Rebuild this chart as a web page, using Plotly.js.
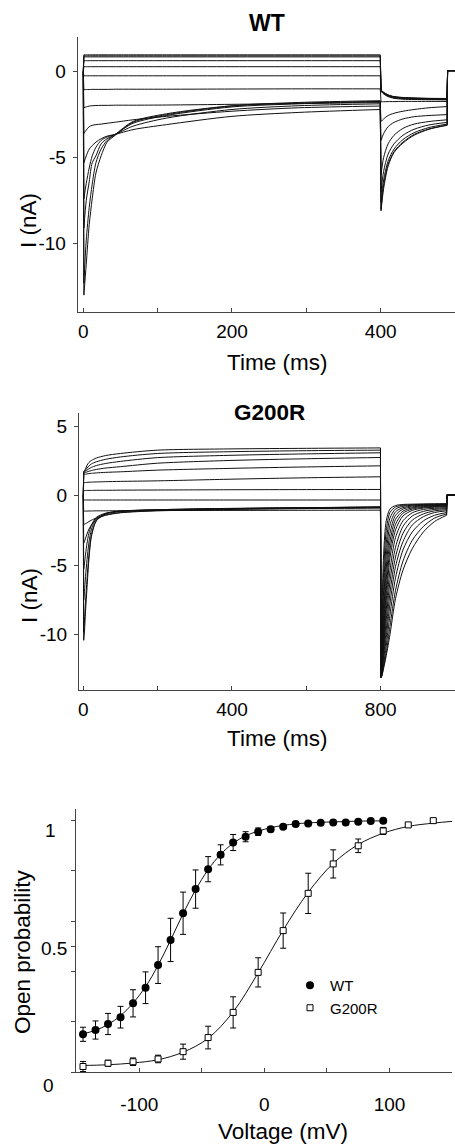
<!DOCTYPE html>
<html><head><meta charset="utf-8">
<script src="https://cdn.plot.ly/plotly-3.0.1.min.js"></script>
<style>html,body{margin:0;padding:0;background:#fff}#chart{width:455px;height:1144px}</style>
</head><body><div id="chart"></div>
<script>
// ---------------- WT current traces ----------------
const WT_TEST_T = [0.8, 4, 8, 12, 17, 24, 32, 43, 67, 112, 200, 290, 399.5];
const WT_TEST = [
  [0.98,0.98,0.98,0.98,0.98,0.98,0.98,0.98,0.98,0.98,0.98,0.98,0.98],
  [0.92,0.92,0.92,0.92,0.92,0.92,0.92,0.92,0.92,0.92,0.92,0.92,0.92],
  [0.86,0.86,0.86,0.86,0.86,0.86,0.86,0.86,0.86,0.86,0.86,0.86,0.86],
  [0.64,0.64,0.64,0.64,0.64,0.64,0.64,0.64,0.64,0.64,0.64,0.64,0.64],
  [0.29,0.29,0.29,0.29,0.29,0.29,0.29,0.29,0.29,0.29,0.29,0.29,0.29],
  [-0.24,-0.24,-0.24,-0.24,-0.24,-0.24,-0.24,-0.24,-0.24,-0.24,-0.24,-0.24,-0.24],
  [-1.05,-1.04,-1.04,-1.03,-1.03,-1.03,-1.03,-1.02,-1.02,-1.02,-1.01,-1.0,-1.0],
  [-2.1,-2.05,-2.0,-1.98,-1.97,-1.96,-1.96,-1.95,-1.95,-1.94,-1.9,-1.85,-1.8],
  [-3.6,-3.4,-3.2,-3.12,-3.08,-3.05,-3.0,-2.94,-2.8,-2.6,-2.3,-2.1,-2.0],
  [-5.3,-4.9,-4.5,-4.3,-4.1,-3.9,-3.75,-3.65,-3.37,-3.08,-2.6,-2.37,-2.2],
  [-7.4,-6.5,-5.6,-4.9,-4.4,-4.0,-3.8,-3.65,-3.17,-2.7,-2.2,-1.98,-1.87],
  [-9.1,-7.5,-6.4,-5.3,-4.9,-4.2,-3.9,-3.65,-3.0,-2.55,-2.05,-1.87,-1.75],
  [-12.3,-9.8,-7.9,-6.55,-5.3,-4.5,-4.0,-3.65,-2.9,-2.45,-1.98,-1.79,-1.69],
  [-13.0,-11.2,-8.9,-7.4,-5.9,-4.9,-4.1,-3.7,-2.94,-2.5,-2.0,-1.83,-1.73]
];
const WT_TAIL_T = [400.5, 404, 410, 418, 430, 445, 465, 489.5];
const WT_TAIL = [
  [-1.06,-1.2,-1.35,-1.45,-1.5,-1.53,-1.55,-1.56],
  [-1.07,-1.21,-1.36,-1.46,-1.51,-1.54,-1.56,-1.57],
  [-1.08,-1.22,-1.37,-1.47,-1.52,-1.55,-1.57,-1.58],
  [-1.1,-1.24,-1.39,-1.49,-1.54,-1.57,-1.59,-1.6],
  [-1.12,-1.27,-1.42,-1.52,-1.57,-1.6,-1.61,-1.62],
  [-1.15,-1.3,-1.45,-1.55,-1.6,-1.62,-1.63,-1.64],
  [-1.75,-1.75,-1.74,-1.74,-1.73,-1.73,-1.73,-1.73],
  [-2.9,-2.75,-2.55,-2.42,-2.3,-2.2,-2.1,-2.03],
  [-4.0,-3.6,-3.2,-2.95,-2.75,-2.62,-2.55,-2.5],
  [-6.0,-5.0,-4.2,-3.7,-3.3,-3.05,-2.9,-2.8],
  [-7.0,-5.8,-4.8,-4.2,-3.7,-3.35,-3.1,-2.95],
  [-7.6,-6.3,-5.2,-4.5,-3.95,-3.55,-3.25,-3.05],
  [-8.0,-6.6,-5.4,-4.65,-4.1,-3.65,-3.33,-3.1],
  [-8.1,-6.8,-5.5,-4.7,-4.15,-3.7,-3.35,-3.12]
];
const WT_HOLD = 0;
const WT_STEP_T = [490, 500];
const WT_STEP_I = [0.06, 0.06];

// ---------------- G200R current traces ----------------
const G_TEST_T = [1, 3, 6, 10, 15, 22, 35, 60, 100, 200, 400, 600, 799.5];
const G_TEST = [
  [1.73,1.8,1.95,2.2,2.4,2.55,2.72,2.9,3.05,3.29,3.38,3.42,3.45],
  [1.73,1.76,1.85,2.0,2.15,2.3,2.45,2.63,2.8,3.05,3.18,3.25,3.29],
  [1.7,1.72,1.78,1.85,1.95,2.05,2.18,2.33,2.48,2.75,2.92,3.02,3.1],
  [1.65,1.66,1.69,1.72,1.77,1.82,1.9,2.0,2.1,2.35,2.55,2.67,2.76],
  [1.55,1.55,1.56,1.58,1.6,1.62,1.65,1.69,1.73,1.85,1.98,2.08,2.16],
  [0.95,0.95,0.96,0.97,0.98,0.99,1.0,1.02,1.04,1.08,1.2,1.3,1.37],
  [0.38,0.38,0.38,0.39,0.39,0.39,0.4,0.4,0.41,0.42,0.44,0.45,0.46],
  [-0.3,-0.3,-0.3,-0.3,-0.3,-0.3,-0.3,-0.3,-0.3,-0.3,-0.3,-0.3,-0.3],
  [-1.1,-1.1,-1.1,-1.1,-1.09,-1.09,-1.08,-1.08,-1.07,-1.06,-1.05,-1.04,-1.03],
  [-2.1,-2.05,-2.0,-1.95,-1.85,-1.75,-1.6,-1.4,-1.22,-1.08,-0.98,-0.92,-0.88],
  [-3.4,-3.3,-3.05,-2.75,-2.4,-2.1,-1.7,-1.38,-1.2,-1.05,-0.95,-0.9,-0.85],
  [-5.3,-4.9,-4.2,-3.4,-2.7,-2.1,-1.55,-1.25,-1.12,-1.02,-0.93,-0.88,-0.83],
  [-7.5,-6.9,-5.8,-4.6,-3.4,-2.4,-1.65,-1.3,-1.12,-1.0,-0.92,-0.86,-0.8],
  [-9.8,-9.0,-7.6,-6.0,-4.3,-2.8,-1.8,-1.3,-1.1,-1.0,-0.9,-0.85,-0.8],
  [-10.4,-9.8,-8.3,-6.6,-4.6,-2.9,-1.8,-1.28,-1.1,-1.02,-0.92,-0.86,-0.82]
];
const G_TAIL_T = [800.5, 803, 808, 815, 825, 840, 860, 885, 915, 945, 977.5];
const G_TAIL = [
  [-13.1,-13.0,-12.4,-11.5,-10.0,-7.4,-5.35,-3.8,-2.6,-1.85,-1.4],
  [-13.1,-12.95,-12.3,-11.3,-9.4,-6.8,-4.7,-3.2,-2.2,-1.6,-1.3],
  [-13.1,-12.9,-12.1,-10.8,-8.6,-5.9,-3.9,-2.6,-1.8,-1.4,-1.2],
  [-13.0,-12.8,-11.8,-10.2,-7.8,-5.1,-3.3,-2.1,-1.5,-1.2,-1.08],
  [-13.0,-12.7,-11.5,-9.6,-7.0,-4.4,-2.7,-1.75,-1.3,-1.08,-1.0],
  [-13.0,-12.6,-11.1,-8.9,-6.2,-3.7,-2.2,-1.45,-1.12,-0.98,-0.92],
  [-13.0,-12.5,-10.8,-8.2,-5.4,-3.0,-1.8,-1.22,-0.98,-0.9,-0.86],
  [-12.9,-12.4,-10.4,-7.5,-4.5,-2.45,-1.45,-1.05,-0.88,-0.82,-0.8],
  [-12.9,-12.2,-9.9,-6.8,-3.9,-2.05,-1.25,-0.95,-0.82,-0.77,-0.75],
  [-12.8,-12.0,-9.3,-6.0,-3.3,-1.7,-1.1,-0.87,-0.77,-0.73,-0.72],
  [-12.7,-11.7,-8.6,-5.2,-2.7,-1.4,-0.95,-0.8,-0.72,-0.7,-0.68],
  [-12.6,-11.3,-7.8,-4.3,-2.1,-1.15,-0.85,-0.73,-0.68,-0.66,-0.65],
  [-12.5,-10.8,-6.8,-3.4,-1.6,-0.95,-0.75,-0.68,-0.65,-0.63,-0.62],
  [-12.3,-10.0,-5.5,-2.5,-1.2,-0.8,-0.68,-0.64,-0.62,-0.6,-0.6],
  [-12.0,-9.0,-4.2,-1.8,-0.95,-0.7,-0.62,-0.6,-0.58,-0.57,-0.56]
];
const G_HOLD = 0;
const G_STEP_T = [978, 1000];
const G_STEP_I = [0.05, 0.05];

// ---------------- Open probability ----------------
const WT_V = [-145,-135,-125,-115,-105,-95,-85,-75,-65,-55,-45,-35,-25,-15,-5,5,15,25,35,45,55,65,75,85,95];
const WT_P = [0.151,0.168,0.192,0.219,0.274,0.336,0.426,0.526,0.632,0.728,0.807,0.864,0.913,0.936,0.956,0.966,0.976,0.987,0.989,0.992,0.993,0.993,0.996,0.999,1.0];
const WT_ERR = [0.028,0.036,0.042,0.043,0.054,0.063,0.073,0.086,0.084,0.076,0.05,0.04,0.032,0.02,0.015,0.01,0.008,0.008,0.006,0.005,0.005,0.005,0.004,0.004,0.004];
const G_V = [-145,-125,-105,-85,-65,-45,-25,-5,15,35,55,75,95,115,135];
const G_P = [0.023,0.036,0.042,0.053,0.082,0.138,0.238,0.397,0.563,0.711,0.828,0.9,0.959,0.983,1.0];
const G_ERR = [0.02,0.012,0.015,0.015,0.03,0.045,0.062,0.058,0.07,0.08,0.056,0.027,0.014,0.006,0.004];
const WT_FIT_V = [-147,-135,-125,-115,-105,-95,-85,-75,-65,-55,-45,-35,-25,-15,-5,5,15,25,35,55,75,95];
const WT_FIT_P = [0.15,0.167,0.19,0.225,0.275,0.34,0.425,0.525,0.63,0.725,0.805,0.866,0.91,0.94,0.958,0.972,0.981,0.987,0.991,0.995,0.998,0.999];
const G_FIT_V = [-147,-125,-105,-85,-65,-45,-25,-5,15,35,55,75,95,115,135,150];
const G_FIT_P = [0.027,0.03,0.037,0.05,0.08,0.135,0.24,0.395,0.565,0.715,0.83,0.905,0.95,0.977,0.99,0.997];

// ---------------- build ----------------
const FONT = 'Liberation Sans, Arial, Helvetica, sans-serif';
const W = 455, H = 1144;
const px = x => x / W, py = y => 1 - y / H;
const LINE = {color:'#111', width:1};

function sweepTraces(testT, tests, tailT, tails, hold, stepT, stepI, xa, ya) {
  const tx=[], ty=[], lx=[], ly=[], cx=[], cy=[];
  tests.forEach((tv, k) => {
    const tl = tails[k];
    testT.forEach((t,i)=>{tx.push(t); ty.push(tv[i]);}); tx.push(null); ty.push(null);
    tailT.forEach((t,i)=>{lx.push(t); ly.push(tl[i]);}); lx.push(null); ly.push(null);
    cx.push(0, testT[0], null, testT[testT.length-1], tailT[0], null,
            tailT[tailT.length-1], stepT[0], stepT[1], null);
    cy.push(hold, tv[0], null, tv[tv.length-1], tl[0], null,
            tl[tl.length-1], stepI[0], stepI[1], null);
  });
  const base = {type:'scatter', mode:'lines', xaxis:xa, yaxis:ya, showlegend:false, hoverinfo:'skip'};
  return [
    Object.assign({}, base, {x:cx, y:cy, line:Object.assign({shape:'linear'}, LINE)}),
    Object.assign({}, base, {x:tx, y:ty, line:Object.assign({shape:'spline', smoothing:0.8}, LINE)}),
    Object.assign({}, base, {x:lx, y:ly, line:Object.assign({shape:'spline', smoothing:0.8}, LINE)})
  ];
}

const data = [].concat(
  sweepTraces(WT_TEST_T, WT_TEST, WT_TAIL_T, WT_TAIL, WT_HOLD, WT_STEP_T, WT_STEP_I, 'x', 'y'),
  sweepTraces(G_TEST_T, G_TEST, G_TAIL_T, G_TAIL, G_HOLD, G_STEP_T, G_STEP_I, 'x2', 'y2'),
  [
    {type:'scatter', mode:'lines', x:WT_FIT_V, y:WT_FIT_P, xaxis:'x3', yaxis:'y3', showlegend:false,
     line:{color:'#111', width:1, shape:'spline'}, hoverinfo:'skip'},
    {type:'scatter', mode:'lines', x:G_FIT_V, y:G_FIT_P, xaxis:'x3', yaxis:'y3', showlegend:false,
     line:{color:'#111', width:1, shape:'spline'}, hoverinfo:'skip'},
    {type:'scatter', mode:'markers', name:'WT', x:WT_V, y:WT_P, xaxis:'x3', yaxis:'y3',
     marker:{symbol:'circle', size:8, color:'#000'},
     error_y:{type:'data', array:WT_ERR, color:'#000', thickness:1, width:3}},
    {type:'scatter', mode:'markers', name:'G200R', x:G_V, y:G_P, xaxis:'x3', yaxis:'y3',
     marker:{symbol:'square', size:6, color:'#fff', line:{color:'#000', width:1}},
     error_y:{type:'data', array:G_ERR, color:'#000', thickness:1, width:3}}
  ]
);

const axBase = {showline:true, linecolor:'#444', linewidth:1, zeroline:false, showgrid:false,
  tickcolor:'#444', tickfont:{family:FONT, size:19, color:'#000'}};
const layout = {
  width:W, height:H, margin:{l:0, r:0, t:0, b:0},
  paper_bgcolor:'#fff', plot_bgcolor:'rgba(0,0,0,0)',
  font:{family:FONT, color:'#000'},
  showlegend:true,
  legend:{x:px(290), y:py(969), xanchor:'left', yanchor:'top', bgcolor:'rgba(0,0,0,0)',
    font:{family:FONT, size:15, color:'#000'}, tracegroupgap:0},
  xaxis: Object.assign({}, axBase, {domain:[px(77.7), 1], anchor:'y', range:[-7.5, 500],
    ticks:'inside', ticklen:4, tickvals:[0,100,200,300,400], ticktext:['0','','200','','400'], ticklabelstandoff:2}),
  yaxis: Object.assign({}, axBase, {domain:[py(312.3), py(37.3)], anchor:'x', range:[-14, 2],
    ticks:'outside', ticklen:4, tickvals:[0,-5,-10], ticktext:['0','-5','-10'], ticklabelstandoff:3}),
  xaxis2: Object.assign({}, axBase, {domain:[px(79), 1], anchor:'y2', range:[-11.6, 1000],
    ticks:'inside', ticklen:4, tickvals:[0,200,400,600,800], ticktext:['0','','400','','800'], ticklabelstandoff:2}),
  yaxis2: Object.assign({}, axBase, {domain:[py(690.3), py(412.5)], anchor:'x2', range:[-14, 6],
    ticks:'outside', ticklen:4, tickvals:[5,0,-5,-10], ticktext:['5','0','-5','-10'], ticklabelstandoff:3}),
  xaxis3: Object.assign({}, axBase, {domain:[px(76), px(452.3)], anchor:'y3', range:[-150.6, 150.2],
    ticks:'inside', ticklen:4, tickvals:[-150,-100,-50,0,50,100,150], ticktext:['','-100','','0','','100',''], ticklabelstandoff:15}),
  yaxis3: Object.assign({}, axBase, {domain:[py(1072.3), py(809.3)], anchor:'x3', range:[0, 1.045],
    ticks:'outside', ticklen:4, tickvals:[0,0.2,0.4,0.5,0.6,0.8,1], showticklabels:false}),
  annotations: [
    {text:'<b>WT</b>', x:px(267), y:py(23), font:{size:23}},
    {text:'Time (ms)', x:px(277), y:py(362), font:{size:22.5}},
    {text:'I (nA)', x:px(29), y:py(220), textangle:-90, font:{size:22.5}},
    {text:'<b>G200R</b>', x:px(269), y:py(412.7), font:{size:22.5}},
    {text:'Time (ms)', x:px(277), y:py(738), font:{size:22.5}},
    {text:'I (nA)', x:px(29), y:py(595), textangle:-90, font:{size:22.5}},
    {text:'Open probability', x:px(22), y:py(952), textangle:-90, font:{size:22.5}},
    {text:'Voltage (mV)', x:px(283), y:py(1131.7), font:{size:22.5}},
    {text:'1', x:px(50), y:py(830), font:{size:19}},
    {text:'0.5', x:px(54), y:py(948), font:{size:19}},
    {text:'0', x:px(48.3), y:py(1085), font:{size:19}}
  ].map(a => Object.assign({xref:'paper', yref:'paper', showarrow:false, xanchor:'center', yanchor:'middle'}, a,
        {font:Object.assign({family:FONT, color:'#000'}, a.font)}))
};

Plotly.newPlot('chart', data, layout, {displayModeBar:false, staticPlot:true});
</script>
</body></html>
